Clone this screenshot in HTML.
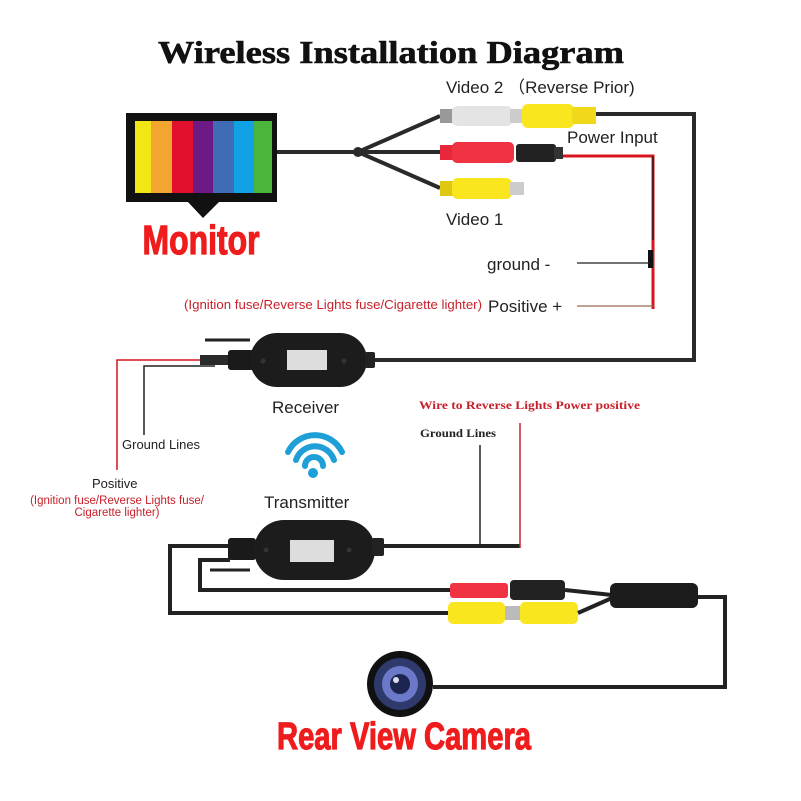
<!DOCTYPE html>
<html><head><meta charset="utf-8"><style>html,body{margin:0;padding:0;background:#fff}svg{display:block}</style></head><body>
<svg width="801" height="801" viewBox="0 0 801 801" xmlns="http://www.w3.org/2000/svg">
<rect width="801" height="801" fill="#fff"/>
<text x="391" y="63" text-anchor="middle" font-family="Liberation Serif, serif" font-weight="bold" font-size="32" textLength="466" lengthAdjust="spacingAndGlyphs" fill="#111" stroke="#111" stroke-width="0.6">Wireless Installation Diagram</text>

<!-- Monitor -->
<rect x="126" y="113" width="151" height="89" fill="#111"/>
<rect x="135" y="121" width="16" height="72" fill="#f2e614"/>
<rect x="151" y="121" width="21" height="72" fill="#f2a630"/>
<rect x="172" y="121" width="21" height="72" fill="#e2102c"/>
<rect x="193" y="121" width="20" height="72" fill="#6c1a84"/>
<rect x="213" y="121" width="21" height="72" fill="#3f6cb4"/>
<rect x="234" y="121" width="20" height="72" fill="#10a2e4"/>
<rect x="254" y="121" width="18" height="72" fill="#4cb43a"/>
<polygon points="187,201 220,201 203,218" fill="#111"/>
<text transform="translate(201,254) scale(1,1.2)" text-anchor="middle" font-family="Liberation Sans Narrow, Liberation Sans, sans-serif" font-weight="bold" font-size="34" textLength="117" lengthAdjust="spacingAndGlyphs" fill="#ee1c1c" stroke="#ee1c1c" stroke-width="1">Monitor</text>

<!-- monitor cables -->
<g stroke="#2a2a2a" stroke-width="4" fill="none">
<line x1="277" y1="152" x2="358" y2="152"/>
<line x1="358" y1="152" x2="440" y2="116"/>
<line x1="358" y1="152" x2="440" y2="152"/>
<line x1="358" y1="152" x2="440" y2="188"/>
<polyline points="596,114 694,114 694,360 369,360"/>
</g>
<circle cx="358" cy="152" r="5" fill="#2a2a2a"/>
<rect x="440" y="109" width="14" height="14" fill="#999"/>
<rect x="452" y="106" width="60" height="20" rx="5" fill="#e4e4e4"/>
<rect x="510" y="109" width="14" height="14" fill="#ccc"/>
<rect x="522" y="104" width="52" height="24" rx="6" fill="#fae61e"/>
<rect x="572" y="107" width="24" height="17" fill="#f2d81a"/>
<rect x="440" y="145" width="14" height="15" fill="#e8283a"/>
<rect x="452" y="142" width="62" height="21" rx="5" fill="#f03242"/>
<rect x="516" y="144" width="40" height="18" rx="3" fill="#222"/>
<rect x="554" y="147" width="9" height="12" fill="#333"/>
<polyline points="563,156 653,156 653,309" stroke="#d8141e" stroke-width="3" fill="none"/>
<line x1="653" y1="156" x2="653" y2="240" stroke="#222" stroke-width="1.5"/>
<rect x="648" y="250" width="5" height="18" fill="#111"/>
<rect x="440" y="181" width="14" height="15" fill="#e0c810"/>
<rect x="452" y="178" width="60" height="21" rx="6" fill="#fae61e"/>
<rect x="510" y="182" width="14" height="13" fill="#ccc"/>

<line x1="577" y1="263" x2="650" y2="263" stroke="#222" stroke-width="1.3"/>
<line x1="577" y1="306" x2="653" y2="306" stroke="#9a6a50" stroke-width="1.3"/>

<g font-family="Liberation Sans, sans-serif" fill="#222">
<text x="446" y="93" font-size="17">Video 2 （Reverse Prior)</text>
<text x="567" y="143" font-size="17">Power Input</text>
<text x="446" y="225" font-size="17">Video 1</text>
<text x="487" y="270" font-size="17">ground -</text>
<text x="488" y="312" font-size="17">Positive +</text>
<text x="272" y="413" font-size="17">Receiver</text>
<text x="264" y="508" font-size="17">Transmitter</text>
<text x="122" y="449" font-size="13">Ground Lines</text>
<text x="92" y="488" font-size="13">Positive</text>
</g>
<g font-family="Liberation Sans Narrow, Liberation Sans, sans-serif" fill="#c8202a">
<text x="184" y="309" font-size="12.5" textLength="298" lengthAdjust="spacingAndGlyphs">(Ignition fuse/Reverse Lights fuse/Cigarette lighter)</text>
<text x="117" y="504" font-size="11.5" text-anchor="middle">(Ignition fuse/Reverse Lights fuse/</text>
<text x="117" y="516" font-size="11.5" text-anchor="middle">Cigarette lighter)</text>
</g>
<text x="419" y="409" font-family="Liberation Serif, serif" font-weight="bold" font-size="12" fill="#c8202a" textLength="221" lengthAdjust="spacingAndGlyphs">Wire to Reverse Lights Power positive</text>
<text x="420" y="437" font-family="Liberation Serif, serif" font-weight="bold" font-size="11.5" fill="#222" textLength="76" lengthAdjust="spacingAndGlyphs">Ground Lines</text>

<!-- receiver -->
<line x1="205" y1="340" x2="250" y2="340" stroke="#222" stroke-width="3"/>
<polyline points="117,470 117,360 215,360" stroke="#d8141e" stroke-width="1.5" fill="none"/>
<polyline points="144,435 144,366 215,366" stroke="#222" stroke-width="1.5" fill="none"/>
<rect x="200" y="355" width="30" height="10" fill="#2a2a2a"/>
<rect x="228" y="350" width="26" height="20" rx="3" fill="#1a1a1a"/>
<rect x="250" y="333" width="117" height="54" rx="27" fill="#1c1c1c"/>
<rect x="365" y="352" width="10" height="16" rx="2" fill="#222"/>
<rect x="287" y="350" width="40" height="20" fill="#ddd"/>
<circle cx="263" cy="361" r="2.5" fill="#333"/><circle cx="344" cy="361" r="2.5" fill="#333"/>

<!-- wifi -->
<g stroke="#1e9fd8" stroke-width="6" fill="none" stroke-linecap="round">
<path d="M288,452 A30,30 0 0 1 342,452"/>
<path d="M296,460 A20,20 0 0 1 334,460"/>
<path d="M305,466 A9,9 0 0 1 323,466"/>
</g>
<circle cx="313" cy="473" r="5" fill="#1e9fd8"/>

<!-- transmitter -->
<g fill="none" stroke-width="4" stroke="#222">
<polyline points="230,546 170,546 170,613 450,613"/>
<polyline points="230,560 200,560 200,590 450,590"/>
<line x1="375" y1="546" x2="520" y2="546"/>
</g>
<line x1="210" y1="570" x2="250" y2="570" stroke="#222" stroke-width="3"/>
<line x1="480" y1="445" x2="480" y2="546" stroke="#222" stroke-width="1.5"/>
<line x1="520" y1="423" x2="520" y2="548" stroke="#c8202a" stroke-width="1.5"/>
<rect x="228" y="538" width="28" height="22" rx="3" fill="#1a1a1a"/>
<rect x="254" y="520" width="121" height="60" rx="30" fill="#1c1c1c"/>
<rect x="372" y="538" width="12" height="18" rx="2" fill="#222"/>
<rect x="290" y="540" width="44" height="22" fill="#ddd"/>
<circle cx="266" cy="550" r="2.5" fill="#333"/><circle cx="349" cy="550" r="2.5" fill="#333"/>

<!-- camera connectors -->
<rect x="450" y="583" width="58" height="15" rx="3" fill="#f03242"/>
<rect x="510" y="580" width="55" height="20" rx="4" fill="#222"/>
<rect x="448" y="602" width="57" height="22" rx="5" fill="#fae61e"/>
<rect x="505" y="606" width="15" height="14" fill="#bbb"/>
<rect x="520" y="602" width="58" height="22" rx="5" fill="#fae61e"/>
<g stroke="#222" stroke-width="4" fill="none">
<path d="M565,590 L612,595"/>
<path d="M578,613 L612,598"/>
<polyline points="698,597 725,597 725,687 433,687"/>
</g>
<rect x="610" y="583" width="88" height="25" rx="6" fill="#1c1c1c"/>

<!-- camera -->
<circle cx="400" cy="684" r="33" fill="#111"/>
<circle cx="400" cy="684" r="26" fill="#2e3a6c"/>
<circle cx="400" cy="684" r="18" fill="#6c78c8"/>
<circle cx="400" cy="684" r="10" fill="#1c2450"/>
<circle cx="396" cy="680" r="3" fill="#dde"/>

<text transform="translate(404,749) scale(1,1.15)" text-anchor="middle" font-family="Liberation Sans Narrow, Liberation Sans, sans-serif" font-weight="bold" font-size="33" textLength="254" lengthAdjust="spacingAndGlyphs" fill="#ee1c1c" stroke="#ee1c1c" stroke-width="1">Rear View Camera</text>
</svg>
</body></html>
